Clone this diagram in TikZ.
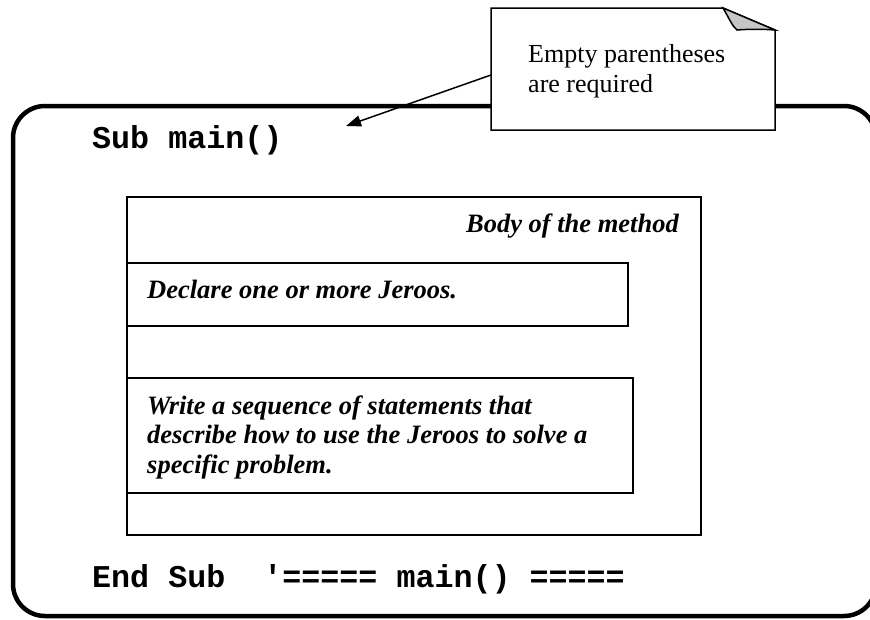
\documentclass[tikz,border=0pt]{standalone}
\usepackage{fontspec}
\setmainfont{Liberation Serif}
\setmonofont{Liberation Mono}
\usetikzlibrary{arrows.meta}
\tikzset{
  outerframe/.style={line width=4.5pt, rounded corners=32pt},
  innerbox/.style={line width=2pt},
  codetext/.style={anchor=base west, inner sep=0pt, font=\fontsize{31.7}{38}\selectfont\ttfamily\bfseries},
  notetext/.style={anchor=base west, inner sep=0pt, align=left, font=\fontsize{26.5}{29.5}\selectfont\bfseries\itshape},
  callouttext/.style={anchor=base west, inner sep=0pt, align=left, font=\fontsize{26}{30}\selectfont},
  calloutbox/.style={line width=1.5pt, fill=white},
  pointer/.style={line width=1.5pt, -{Triangle[length=15pt,width=11pt]}}
}
\begin{document}
\begin{tikzpicture}[x=1pt,y=-1pt]
\useasboundingbox (0,0) rectangle (870,619);
% outer frame
\draw[outerframe] (13,106) rectangle (876,616);
% body box
\draw[innerbox] (127,197) rectangle (701,535);
\draw[innerbox] (127,263) rectangle (628,326);
\draw[innerbox] (127,378) rectangle (633,493);
% code text
\node[codetext] (sub) at (92,148) {Sub main()};
\node[codetext] (endsub) at (92,587) {End Sub\ \ '===== main() =====};
% notes
\node[notetext, anchor=base east] (body) at (679,232) {Body of the method};
\node[notetext] (declare) at (147,298) {Declare one or more Jeroos.};
\node[notetext] (write) at (147,473) {Write a sequence of statements that\\describe how to use the Jeroos to solve a\\specific problem.};
% callout
\draw[calloutbox] (491,8) -- (723,8) -- (775,30) -- (775,130) -- (491,130) -- cycle;
\fill[gray!45] (723,8) .. controls (729,18) and (732,26) .. (737,30) .. controls (750,29) and (762,29) .. (775,30) -- cycle;
\draw[line width=1.5pt] (723,8) .. controls (729,18) and (732,26) .. (737,30) .. controls (750,29) and (762,29) .. (775,30) -- cycle;
\node[callouttext] (note) at (528,92) {Empty parentheses\\are required};
\coordinate (notestart) at (491,75);
\coordinate (notetip) at (346,126);
\draw[pointer] (notestart) -- (notetip);
\end{tikzpicture}
\end{document}
